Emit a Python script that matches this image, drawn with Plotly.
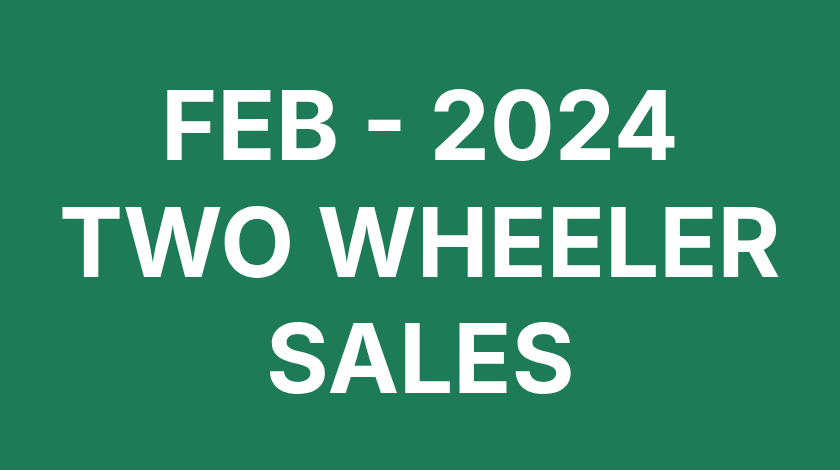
import plotly.graph_objects as go

# title card text, one entry per line
title_lines = ["FEB - 2024", "TWO WHEELER", "SALES"]
# vertical centre of each line (paper coords)
line_y = [0.734, 0.486, 0.238]

BG = "#1e7b57"

fig = go.Figure()

for text, y in zip(title_lines, line_y):
    fig.add_annotation(
        text=text,
        x=0.5, y=y,
        xref="paper", yref="paper",
        xanchor="center", yanchor="middle",
        showarrow=False,
        font=dict(family="Inter", size=96, color="white", weight="bold"),
    )

fig.update_layout(
    width=840,
    height=470,
    margin=dict(l=0, r=0, t=0, b=0),
    paper_bgcolor=BG,
    plot_bgcolor=BG,
    xaxis=dict(visible=False),
    yaxis=dict(visible=False),
    showlegend=False,
)

# drop the browser's default body margin so the card fills the window
fig.write_html(
    "out.html",
    config={"displayModeBar": False},
    post_script="document.body.style.margin='0';",
)
